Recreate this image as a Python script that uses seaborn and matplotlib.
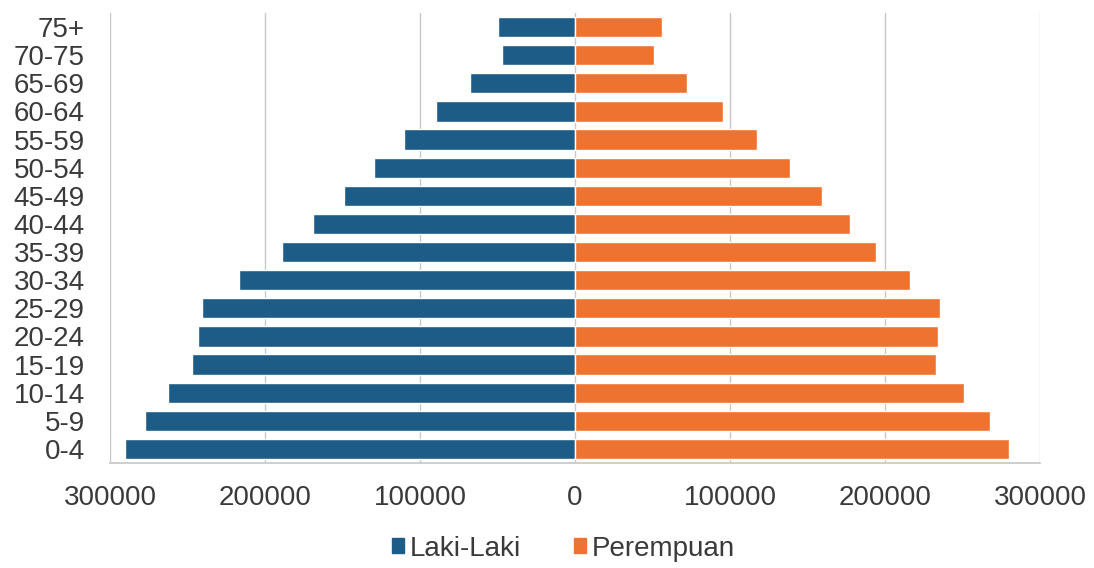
import numpy as np
import pandas as pd
import matplotlib
matplotlib.use("Agg")
import matplotlib.pyplot as plt
from matplotlib.ticker import FuncFormatter
from matplotlib.patches import Patch
import seaborn as sns

# umur, atas ke bawah
umur=["75+","70-75","65-69","60-64","55-59","50-54","45-49","40-44",
    "35-39","30-34","25-29","20-24","15-19","10-14","5-9","0-4"]
laki=[49500,47300,68000,89500,110300,129700,149200,169000,
    189000,216600,240800,243300,247000,262800,277200,290000]
perempuan=[56200,51100,72300,95300,117300,139000,159400,177700,
    194500,216300,235600,234100,233200,251200,267600,279800]

c_laki="#1d5c86"
c_per="#ee7330"

sns.set_theme(style="white")
plt.rcParams['font.family']=['Liberation Sans','DejaVu Sans']

df=pd.DataFrame({"umur":umur,
    "laki":-np.array(laki),
    "perempuan":np.array(perempuan)})

fg,ax=plt.subplots(figsize=(10.94,5.68),dpi=100)
fg.subplots_adjust(left=0.1005,right=0.9506,top=0.977,bottom=0.185)
#two barplots, male negative
sns.barplot(data=df,x="laki",y="umur",order=umur,
    color=c_laki,saturation=1,width=0.72,orient="h",ax=ax)
sns.barplot(data=df,x="perempuan",y="umur",order=umur,
    color=c_per,saturation=1,width=0.72,orient="h",ax=ax)

ax.set_xlim(-300000,300000)
ax.set_xticks(np.arange(-300000,300001,100000))
ax.xaxis.set_major_formatter(FuncFormatter(lambda v,p:f"{abs(int(v))}"))
ax.grid(axis="x",color="#c8c8c8",linewidth=1)
ax.set_axisbelow(True)
ax.set_xlabel("")
ax.set_ylabel("")
for s in ["top","left","right"]:
    ax.spines[s].set_visible(False)
ax.spines["bottom"].set_color("#c8c8c8")
ax.tick_params(axis="x",length=0,pad=16,labelsize=20,labelcolor="#3a3a3a")
ax.tick_params(axis="y",length=0,pad=18,labelsize=20,labelcolor="#3a3a3a")

hs=[Patch(color=c_laki),Patch(color=c_per)]
fg.legend(hs,["Laki-Laki","Perempuan"],loc="center",
    bbox_to_anchor=(0.515,0.034),ncol=2,frameon=False,
    fontsize=20,handlelength=0.45,handleheight=0.45,
    handletextpad=0.2,columnspacing=1.9,labelcolor="#3a3a3a")

fg.savefig("out.png",dpi=100)
